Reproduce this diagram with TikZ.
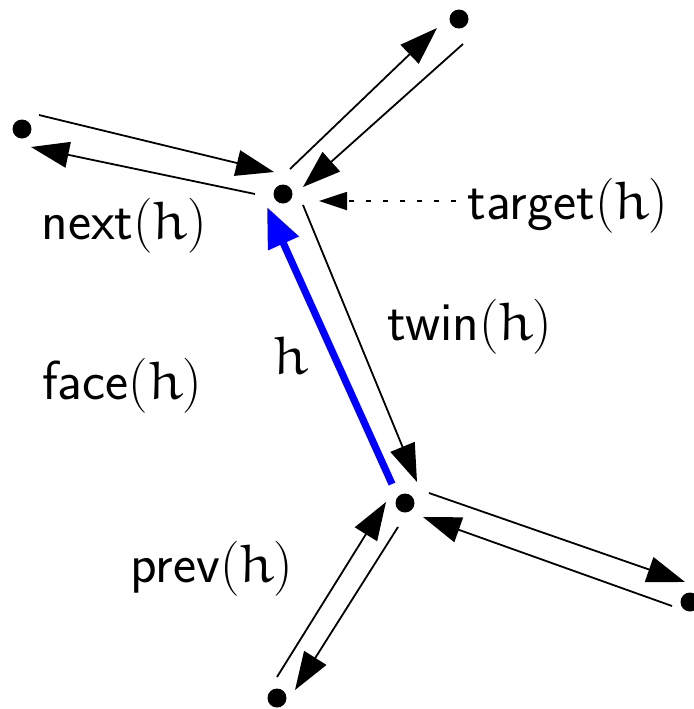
\documentclass[tikz,border=0pt]{standalone}
\usepackage{amsfonts}
\usetikzlibrary{arrows.meta}
\newcommand\eulh{{\usefont{U}{eur}{m}{n}h}}
\newcommand\ofh{\textrm{(}\eulh\textrm{)}}
\begin{document}
\begin{tikzpicture}[x=0.5pt,y=-0.5pt,
  vtx/.style={circle,fill=black,inner sep=0pt,minimum size=9.5pt},
  hedge/.style={line width=0.9pt,-{Triangle[length=19pt,width=13pt]}},
  hmain/.style={line width=3.6pt,blue,-{Triangle[length=20pt,width=16pt]}},
  ptr/.style={line width=0.9pt,dash pattern=on 2.5pt off 6pt,-{Triangle[length=14pt,width=9pt]}},
  lbl/.style={font=\fontsize{27.5}{31}\selectfont\sffamily,inner sep=0pt}]
\useasboundingbox (0,0) rectangle (693,709);
% vertices
\node[vtx] (A)  at (22,129) {};
\node[vtx] (T)  at (283,194) {};
\node[vtx] (TR) at (459,19) {};
\node[vtx] (B)  at (405,503) {};
\node[vtx] (R)  at (690,602) {};
\node[vtx] (BL) at (277,698) {};
% half-edge endpoints
\coordinate (a1) at (39,115);  \coordinate (a2) at (274,172);
\coordinate (b1) at (255,194); \coordinate (b2) at (31,147);
\coordinate (c1) at (290,169); \coordinate (c2) at (437,28);
\coordinate (d1) at (463,44);  \coordinate (d2) at (303,187);
\coordinate (e1) at (303,205); \coordinate (e2) at (417,482);
\coordinate (f1) at (392,484); \coordinate (f2) at (267,207);
\coordinate (g1) at (429,493); \coordinate (g2) at (685,582);
\coordinate (k1) at (672,606); \coordinate (k2) at (423,517);
\coordinate (m1) at (277,677); \coordinate (m2) at (386,502);
\coordinate (n1) at (398,527); \coordinate (n2) at (295,690);
\coordinate (p1) at (456,201); \coordinate (p2) at (319,201);
% labels
\node[lbl] (next)   at (124,226) {next\ofh};
\node[lbl] (target) at (568,206) {target\ofh};
\node[lbl] (twin)   at (470,327) {twin\ofh};
\node[lbl] (hl)     at (291,355) {\eulh};
\node[lbl] (face)   at (122,386) {face\ofh};
\node[lbl] (prev)   at (212,569) {prev\ofh};
% half-edges
\draw[hedge] (a1) -- (a2);
\draw[hedge] (b1) -- (b2);
\draw[hedge] (c1) -- (c2);
\draw[hedge] (d1) -- (d2);
\draw[hedge] (e1) -- (e2);
\draw[hmain] (f1) -- (f2);
\draw[hedge] (g1) -- (g2);
\draw[hedge] (k1) -- (k2);
\draw[hedge] (m1) -- (m2);
\draw[hedge] (n1) -- (n2);
% target pointer
\draw[ptr] (p1) -- (p2);
\end{tikzpicture}
\end{document}
